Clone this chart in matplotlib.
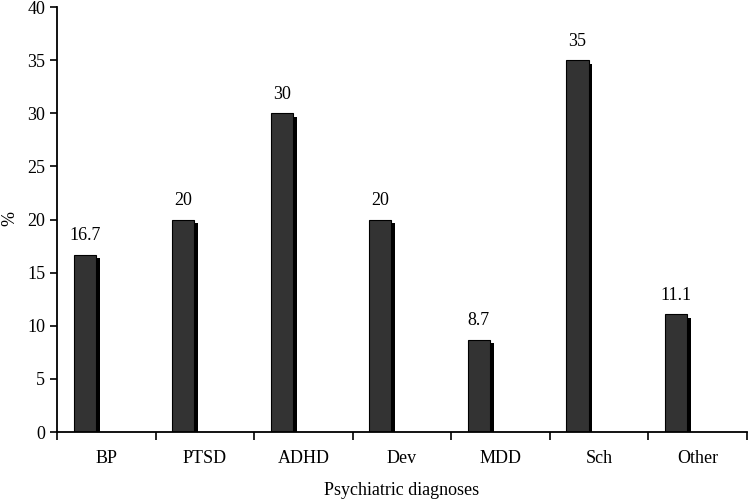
import numpy as np
import matplotlib
matplotlib.use("Agg")
import matplotlib.pyplot as plt

categories = ["BP", "PTSD", "ADHD", "Dev", "MDD", "Sch", "Other"]
values = [16.7, 20, 30, 20, 8.7, 35, 11.1]
labels = ["16.7", "20", "30", "20", "8.7", "35", "11.1"]

plt.rcParams['font.family'] = ['Liberation Serif', 'DejaVu Serif']
fs = 13

fig = plt.figure(figsize=(7.5, 5.03), dpi=100)
ax = fig.add_axes([0.076, 0.141, 0.92, 0.845])

x = np.arange(len(categories))
w = 0.225
xc = x - 0.22  # bars sit left of category centre

# shadow
ax.bar(xc + 0.04, [v - 0.35 for v in values], width=w, color="black",
       zorder=1, clip_on=False)
# main bars
ax.bar(xc, values, width=w, color="#333333", edgecolor="black",
       linewidth=0.8, zorder=2)

for xi, v, t in zip(xc, values, labels):
    ax.text(xi, v + 1.0, t, ha="center", va="bottom", fontsize=fs)

ax.set_xlim(-0.5, len(categories) - 0.5)
ax.set_ylim(0, 40)
ax.set_yticks(range(0, 41, 5))
ax.set_xticks(np.arange(-0.5, len(categories), 1.0))
ax.set_xticklabels([])
ax.set_xticks(x, minor=True)
ax.set_xticklabels(categories, minor=True)
ax.tick_params(axis="x", which="minor", length=0, pad=13, labelsize=fs)
ax.tick_params(axis="x", which="major", direction="out", length=6, width=1.2)
ax.tick_params(axis="y", direction="out", length=5, width=1.2, labelsize=fs)

for s in ["top", "right"]:
    ax.spines[s].set_visible(False)
for s in ["left", "bottom"]:
    ax.spines[s].set_linewidth(1.3)

ax.set_xlabel("Psychiatric diagnoses", fontsize=fs, labelpad=11)
fig.text(0.013, 0.565, "%", rotation=90, ha="center", va="center", fontsize=fs)

fig.savefig("out.png", dpi=100)
